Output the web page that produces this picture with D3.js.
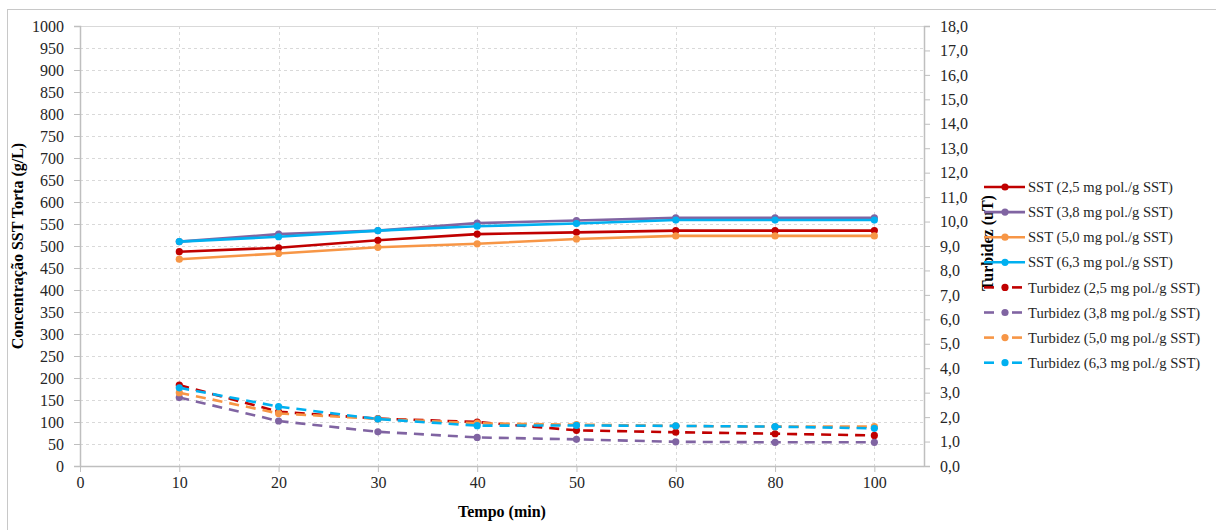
<!DOCTYPE html>
<html>
<head>
<meta charset="utf-8">
<script src="https://cdn.jsdelivr.net/npm/d3@7"></script>
<style>
  html, body { margin: 0; padding: 0; background: #fff; }
  svg { display: block; font-family: "Liberation Serif", "Times New Roman", serif; }
</style>
</head>
<body>
<svg id="chart" width="1216" height="530"></svg>
<script>
// Category labels on the time axis (min); "0" carries no measurement
const xLabels = ["0", "10", "20", "30", "40", "50", "60", "80", "100"];
const tempo = ["10", "20", "30", "40", "50", "60", "80", "100"];

// Cake SST concentration (g/L), left axis
const sst25 = [487, 496, 513, 527, 531, 535, 535, 535];
const sst38 = [510, 527, 535, 552, 558, 564, 564, 564];
const sst50 = [470, 483, 497, 505, 516, 523, 523, 523];
const sst63 = [510, 521, 535, 545, 551, 559, 559, 559];

// Turbidity (uT), right axis
const turb25 = [3.31, 2.22, 1.94, 1.80, 1.46, 1.38, 1.32, 1.25];
const turb38 = [2.80, 1.84, 1.40, 1.17, 1.09, 0.99, 0.97, 0.97];
const turb50 = [3.00, 2.15, 1.93, 1.75, 1.69, 1.64, 1.61, 1.61];
const turb63 = [3.20, 2.43, 1.92, 1.65, 1.66, 1.64, 1.61, 1.54];

// Tick values
const leftTicks = d3.range(0, 1001, 50);
const rightTicks = d3.range(0, 18.01, 1);

const colors = { c25: "#C00000", c38: "#8064A2", c50: "#F79646", c63: "#00B0F0" };

const series = [
  { name: "SST (2,5 mg pol./g SST)", values: sst25, color: colors.c25, axis: "left", dashed: false },
  { name: "SST (3,8 mg pol./g SST)", values: sst38, color: colors.c38, axis: "left", dashed: false },
  { name: "SST (5,0 mg pol./g SST)", values: sst50, color: colors.c50, axis: "left", dashed: false },
  { name: "SST (6,3 mg pol./g SST)", values: sst63, color: colors.c63, axis: "left", dashed: false },
  { name: "Turbidez (2,5 mg pol./g SST)", values: turb25, color: colors.c25, axis: "right", dashed: true },
  { name: "Turbidez (3,8 mg pol./g SST)", values: turb38, color: colors.c38, axis: "right", dashed: true },
  { name: "Turbidez (5,0 mg pol./g SST)", values: turb50, color: colors.c50, axis: "right", dashed: true },
  { name: "Turbidez (6,3 mg pol./g SST)", values: turb63, color: colors.c63, axis: "right", dashed: true }
];

const serif = "'Liberation Serif', 'Times New Roman', serif";
const svg = d3.select("#chart");
const plot = { left: 80, right: 924, top: 26, bottom: 466 };

// Chart-area frame
svg.append("rect")
  .attr("x", 7.5).attr("y", 9.5)
  .attr("width", 1240).attr("height", 540)
  .attr("fill", "none").attr("stroke", "#c8c8c8").attr("stroke-width", 1);

// Categories sit on tick marks, with half a step of room after the last one
const step = (plot.right - plot.left) / (xLabels.length - 0.5);
const x = d3.scalePoint().domain(xLabels)
  .range([plot.left, plot.left + step * (xLabels.length - 1)]);
const yL = d3.scaleLinear().domain([0, 1000]).range([plot.bottom, plot.top]);
const yR = d3.scaleLinear().domain([0, 18]).range([plot.bottom, plot.top]);

// Gridlines
const grid = svg.append("g");
grid.selectAll("line.h").data(leftTicks.filter(v => v > 0)).join("line")
  .attr("x1", plot.left).attr("x2", plot.right)
  .attr("y1", d => Math.round(yL(d)) + 0.5).attr("y2", d => Math.round(yL(d)) + 0.5)
  .attr("stroke", "#d9d9d9").attr("stroke-width", 1)
  .attr("stroke-dasharray", d => d === 1000 ? null : "3,3");
grid.selectAll("line.v").data(xLabels.slice(1)).join("line")
  .attr("x1", d => Math.round(x(d)) + 0.5).attr("x2", d => Math.round(x(d)) + 0.5)
  .attr("y1", plot.top).attr("y2", plot.bottom)
  .attr("stroke", "#d9d9d9").attr("stroke-width", 1)
  .attr("stroke-dasharray", "3,3");

// Axes
const axisColor = "#bfbfbf";
const textColor = "#262626";

const gL = svg.append("g").attr("transform", `translate(${plot.left},0)`)
  .call(d3.axisLeft(yL).tickValues(leftTicks).tickSize(6).tickPadding(10).tickFormat(d3.format("d")));
const gR = svg.append("g").attr("transform", `translate(${plot.right},0)`)
  .call(d3.axisRight(yR).tickValues(rightTicks).tickSize(6).tickPadding(10)
    .tickFormat(d => d3.format(".1f")(d).replace(".", ",")));
const gX = svg.append("g").attr("transform", `translate(0,${plot.bottom})`)
  .call(d3.axisBottom(x).tickSize(6).tickPadding(5));
gX.select(".domain").attr("d", `M${plot.left},0.5H${plot.right}`);

[gL, gR, gX].forEach(g => {
  g.attr("font-family", serif).attr("font-size", 16);
  g.select(".domain").attr("stroke", axisColor).attr("stroke-width", 1.5);
  g.selectAll(".tick line").attr("stroke", axisColor).attr("stroke-width", 1);
  g.selectAll(".tick text").attr("fill", textColor);
});

// Axis titles
svg.append("text")
  .attr("transform", `translate(23,${(plot.top + plot.bottom) / 2}) rotate(-90)`)
  .attr("text-anchor", "middle").attr("font-weight", "bold").attr("font-size", 16)
  .attr("font-family", serif).attr("fill", "#000").text("Concentração SST Torta (g/L)");
svg.append("text")
  .attr("x", (plot.left + plot.right) / 2).attr("y", 517)
  .attr("text-anchor", "middle").attr("font-weight", "bold").attr("font-size", 16)
  .attr("font-family", serif).attr("fill", "#000").text("Tempo (min)");
svg.append("text")
  .attr("transform", `translate(993,${(plot.top + plot.bottom) / 2 - 3}) rotate(-90)`)
  .attr("text-anchor", "middle").attr("font-weight", "bold").attr("font-size", 16)
  .attr("font-family", serif).attr("fill", "#000").text("Turbidez (uT)");

// Series lines and markers
const marks = svg.append("g");
series.forEach(s => {
  const y = s.axis === "left" ? yL : yR;
  const pts = tempo.map((t, i) => [x(t), y(s.values[i])]);
  marks.append("path")
    .attr("d", d3.line()(pts))
    .attr("fill", "none").attr("stroke", s.color).attr("stroke-width", 2.6)
    .attr("stroke-linejoin", "round")
    .attr("stroke-dasharray", s.dashed ? "10,7" : null);
  marks.selectAll(null).data(pts).join("circle")
    .attr("cx", d => d[0]).attr("cy", d => d[1]).attr("r", 3.6)
    .attr("fill", s.color);
});

// Legend
const legend = svg.append("g");
const legY0 = 187, legStep = 25.1;
series.forEach((s, i) => {
  const yy = legY0 + i * legStep;
  const row = legend.append("g");
  if (s.dashed) {
    row.append("line").attr("x1", 984).attr("x2", 994).attr("y1", yy).attr("y2", yy)
      .attr("stroke", s.color).attr("stroke-width", 2.6);
    row.append("line").attr("x1", 1012).attr("x2", 1022).attr("y1", yy).attr("y2", yy)
      .attr("stroke", s.color).attr("stroke-width", 2.6);
  } else {
    row.append("line").attr("x1", 984).attr("x2", 1025).attr("y1", yy).attr("y2", yy)
      .attr("stroke", s.color).attr("stroke-width", 2.6);
  }
  row.append("circle").attr("cx", 1005).attr("cy", yy).attr("r", 3.6).attr("fill", s.color);
  row.append("text").attr("x", 1028).attr("y", yy).attr("dy", "0.35em")
    .attr("font-family", serif).attr("font-size", 14.6).attr("fill", textColor).text(s.name);
});
</script>
</body>
</html>
